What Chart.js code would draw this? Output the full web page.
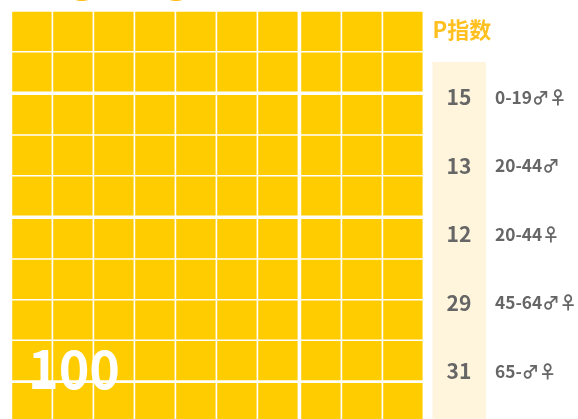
<!DOCTYPE html>
<html lang="zh">
<head>
<meta charset="utf-8">
<title>P指数</title>
<style>html,body{margin:0;padding:0;background:#fff}canvas{display:block;filter:blur(0.45px)}</style>
<script src="https://cdn.jsdelivr.net/npm/chart.js@4"></script>
</head>
<body>
<canvas id="c" width="578" height="419"></canvas>
<script>
// Data
const columnIds = [0, 1, 2, 3, 4, 5, 6, 7, 8, 9];
const rowIds = [0, 1, 2, 3, 4, 5, 6, 7, 8, 9];
const ageGroups = ['0-19♂♀', '20-44♂', '20-44♀', '45-64♂♀', '65-♂♀'];
const pIndex = [15, 13, 12, 29, 31];
const panelTitle = 'P指数';
const totalLabel = '100';
const headerLabel = '2020';

// Layout and style
const COL_PITCH = 41, ROW_PITCH = 40.7;
const CELL_W = 38.7, CELL_H = 38.5;
const FONT = '"Noto Sans CJK SC","Noto Sans",sans-serif';
const colOffset = c => c >= 7 ? 2 / COL_PITCH : 0;
const rowOffset = r => (r >= 2 ? 1.9 : 0) + (r >= 5 ? 1.9 : 0) + (r >= 9 ? 1.3 : 0);
const halfH = CELL_H / 2 / ROW_PITCH;

const cells = [];
rowIds.forEach(r => columnIds.forEach(c => {
  const cy = r + rowOffset(r) / ROW_PITCH;
  cells.push({ x: c + colOffset(c), y: [cy - halfH, cy + halfH] });
}));

const panelPlugin = {
  id: 'panel',
  beforeDatasetsDraw(chart) {
    const ctx = chart.ctx;
    ctx.save();
    ctx.fillStyle = '#FFF4DC';
    ctx.fillRect(432.5, 62, 53.5, 357);
    ctx.restore();
  },
  afterDatasetsDraw(chart) {
    const ctx = chart.ctx;
    ctx.save();
    ctx.textBaseline = 'alphabetic';
    ctx.textAlign = 'left';
    ctx.fillStyle = '#FFC020';
    ctx.font = 'bold 80px ' + FONT;
    ctx.fillText(headerLabel, 11, 0.15);
    ctx.font = 'bold 22px ' + FONT;
    ctx.fillText(panelTitle, 432.5, 38);
    pIndex.forEach((v, i) => {
      const y = 97 + i * 68.5;
      ctx.fillStyle = '#666666';
      ctx.textAlign = 'center';
      ctx.font = 'bold 21px ' + FONT;
      ctx.fillText(String(v), 459, y + 8);
      ctx.textAlign = 'left';
      ctx.font = 'bold 17.3px ' + FONT;
      ctx.fillText(ageGroups[i], 495, y + 6.5);
    });
    ctx.fillStyle = '#FFFFFF';
    ctx.textAlign = 'left';
    ctx.font = 'bold 52px ' + FONT;
    ctx.fillText(totalLabel, 28, 389);
    ctx.restore();
  }
};

new Chart(document.getElementById('c'), {
  type: 'bar',
  data: {
    datasets: [{
      data: cells,
      backgroundColor: '#FFCC00',
      borderWidth: 0,
      barThickness: CELL_W
    }]
  },
  options: {
    responsive: false,
    animation: false,
    layout: { padding: 0 },
    plugins: { legend: { display: false }, tooltip: { enabled: false }, title: { display: false } },
    scales: {
      x: { type: 'linear', display: false, offset: false, min: -31.9 / COL_PITCH, max: (578 - 31.9) / COL_PITCH },
      y: { type: 'linear', display: false, reverse: true, min: -31.3 / ROW_PITCH, max: (419 - 31.3) / ROW_PITCH }
    }
  },
  plugins: [panelPlugin]
});
</script>
</body>
</html>
